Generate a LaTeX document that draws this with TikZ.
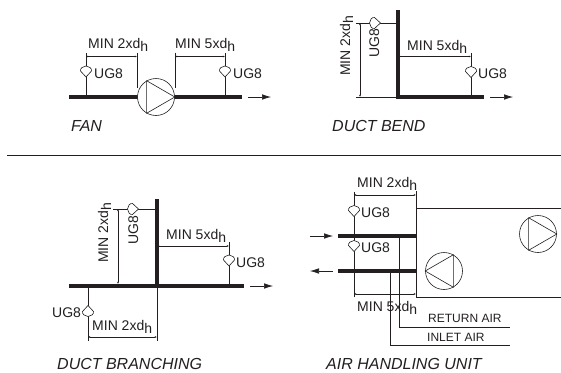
\documentclass[tikz,border=0pt]{standalone}
\usepackage{fontspec}
\setmainfont{Liberation Sans}
\usetikzlibrary{arrows.meta, calc}
\definecolor{my-ink}{HTML}{231F20}
\newcommand{\mindim}[1]{MIN #1xd\raisebox{-3pt}{h}}
\tikzset{
    my-wire/.style={
        draw=my-ink, line width=.6pt
    },
    my-duct/.style={
        draw=my-ink, line width=3.6pt
    },
    my-dim/.style={
        my-wire, {Latex[length=2.2pt,width=2pt]}-{Latex[length=2.2pt,width=2pt]}
    },
    my-flow/.style={
        my-wire, -{Latex[length=9pt,width=5.5pt]}
    },
    my-fan/.style={
        my-wire, shape=circle, minimum size=37pt, inner sep=0pt, fill=white
    },
    my-text/.style={
        anchor=base west, inner sep=0pt, text=my-ink, font=\fontsize{14}{14}\selectfont
    },
    my-vtext/.style={
        anchor=base west, inner sep=0pt, text=my-ink, rotate=90, font=\fontsize{14}{14}\selectfont
    },
    my-small/.style={
        my-text, font=\fontsize{12}{12}\selectfont
    },
    my-title/.style={
        anchor=base west, inner sep=0pt, text=my-ink, font=\fontsize{16}{16}\selectfont\itshape
    },
    my-sensor/.pic={
        \draw[my-wire, fill=white] (0,5.5) -- (-5.5,-.5) .. controls (-6,-3) and (-3,-5.5) .. (0,-5.5)
            .. controls (3,-5.5) and (6,-3) .. (5.5,-.5) -- cycle;
    },
}

\begin{document}
\begin{tikzpicture}[x=1pt, y=-1pt]

        \useasboundingbox (0,0) rectangle (561,372);

        % FAN, DUCT AND SENSORS
        \coordinate (FDUCTL) at (69,97);
        \coordinate (FDUCTR) at (242,97);
        \coordinate (FSENS1) at (86,97);
        \coordinate (FSENS2) at (225,97);
        \coordinate (FDIM1)  at (86,56.5);
        \coordinate (FDIM2)  at (137,56.5);
        \coordinate (FDIM3)  at (175,56.5);
        \coordinate (FDIM4)  at (225,56.5);
        \coordinate (FTICK2) at (137,88);
        \coordinate (FTICK3) at (175,88);
        \coordinate (FARR1)  at (248,97);
        \coordinate (FARR2)  at (271,97);
        \draw[my-duct] (FDUCTL) -- (FDUCTR);
        \node[my-fan, draw] (FAN) at (156,97) {};
        \draw[my-wire] (FAN.120) -- (FAN.0) -- (FAN.240) -- cycle;
        \draw[my-wire] (FSENS1) -- ($(FDIM1) + (0,-4)$);
        \draw[my-wire] (FSENS2) -- ($(FDIM4) + (0,-4)$);
        \draw[my-wire] ($(FDIM2) + (0,-4)$) -- (FTICK2);
        \draw[my-wire] ($(FDIM3) + (0,-4)$) -- (FTICK3);
        \draw[my-dim] (FDIM1) -- (FDIM2);
        \draw[my-dim] (FDIM3) -- (FDIM4);
        \draw[my-flow] (FARR1) -- (FARR2);
        \pic at (86,71.5) {my-sensor};
        \pic at (225,71.5) {my-sensor};
        \node[my-text] (FMIN2) at (88,48)  {\mindim{2}};
        \node[my-text] (FMIN5) at (175,48) {\mindim{5}};
        \node[my-text] (FUG1)  at (94,78)  {UG8};
        \node[my-text] (FUG2)  at (233,78) {UG8};
        \node[my-title] (FTITLE) at (71,131) {FAN};

        % DUCT BEND
        \coordinate (BTOP)    at (398,10);
        \coordinate (BCORNER) at (398,97);
        \coordinate (BEND)    at (484,97);
        \coordinate (BSENS1)  at (398,23);
        \coordinate (BLEFT1)  at (356,23);
        \coordinate (BLEFT2)  at (356,97);
        \coordinate (BDIM1)   at (360,23);
        \coordinate (BDIM2)   at (360,97);
        \coordinate (BDIM3)   at (398,56.5);
        \coordinate (BDIM4)   at (471,56.5);
        \coordinate (BSENS2)  at (471,97);
        \coordinate (BARR1)   at (490,97);
        \coordinate (BARR2)   at (513,97);
        \draw[my-duct] (BTOP) -- (BCORNER) -- (BEND);
        \draw[my-wire] (BLEFT1) -- (BSENS1);
        \draw[my-wire] (BLEFT2) -- (BCORNER);
        \draw[my-dim] (BDIM1) -- (BDIM2);
        \draw[my-dim] (BDIM3) -- (BDIM4);
        \draw[my-wire] (BSENS2) -- ($(BDIM4) + (0,-4)$);
        \draw[my-flow] (BARR1) -- (BARR2);
        \pic[rotate=90] at (375,23) {my-sensor};
        \pic at (471,72) {my-sensor};
        \node[my-vtext] (BMIN2) at (350,76) {\mindim{2}};
        \node[my-vtext] (BUG1)  at (379,58) {UG8};
        \node[my-text]  (BMIN5) at (407,50) {\mindim{5}};
        \node[my-text]  (BUG2)  at (478,78) {UG8};
        \node[my-title] (BTITLE) at (332,131) {DUCT BEND};

        % SEPARATOR
        \coordinate (SEPL) at (7,155);
        \coordinate (SEPR) at (561,155);
        \draw[my-wire, line width=1pt] (SEPL) -- (SEPR);

        % DUCT BRANCHING
        \coordinate (DLEFT)   at (69,286);
        \coordinate (DRIGHT)  at (244,286);
        \coordinate (DTOP)    at (157,199);
        \coordinate (DJOIN)   at (157,286);
        \coordinate (DSENS1)  at (157,209);
        \coordinate (DLEFT1)  at (113,209);
        \coordinate (DDIM1)   at (118,209);
        \coordinate (DDIM2)   at (118,284);
        \coordinate (DDIM3)   at (157,246);
        \coordinate (DDIM4)   at (229,246);
        \coordinate (DSENS2)  at (229,286);
        \coordinate (DSENS3)  at (88,286);
        \coordinate (DDIM5)   at (88,337);
        \coordinate (DDIM6)   at (157,337);
        \coordinate (DARR1)   at (250,286);
        \coordinate (DARR2)   at (273,286);
        \draw[my-duct] (DLEFT) -- (DRIGHT);
        \draw[my-duct] (DTOP) -- (DJOIN);
        \draw[my-wire] (DLEFT1) -- (DSENS1);
        \draw[my-dim] (DDIM1) -- (DDIM2);
        \draw[my-dim] (DDIM3) -- (DDIM4);
        \draw[my-dim] (DDIM5) -- (DDIM6);
        \draw[my-wire] (DSENS2) -- ($(DDIM4) + (0,-4)$);
        \draw[my-wire] (DSENS3) -- ($(DDIM5) + (0,4)$);
        \draw[my-wire] (DJOIN) -- ($(DDIM6) + (0,4)$);
        \draw[my-flow] (DARR1) -- (DARR2);
        \pic[rotate=90] at (133,209) {my-sensor};
        \pic at (229,260.5) {my-sensor};
        \pic[rotate=180] at (88,311) {my-sensor};
        \node[my-vtext] (DMIN2) at (108,263) {\mindim{2}};
        \node[my-vtext] (DUG1)  at (138,245) {UG8};
        \node[my-text]  (DMIN5) at (166,239) {\mindim{5}};
        \node[my-text]  (DUG2)  at (236,267) {UG8};
        \node[my-text]  (DUG3)  at (52,317)  {UG8};
        \node[my-text]  (DMINB) at (92,330)  {\mindim{2}};
        \node[my-title] (DTITLE) at (57,369) {DUCT BRANCHING};

        % AIR HANDLING UNIT
        \coordinate (ABOXTL)  at (561,208);
        \coordinate (ACORN1)  at (416,208);
        \coordinate (ACORN2)  at (416,297);
        \coordinate (ABOXBL)  at (561,297);
        \coordinate (ATICK)   at (416,191);
        \coordinate (AUP1)    at (338,236);
        \coordinate (AUP2)    at (416,236);
        \coordinate (ALO1)    at (338,271);
        \coordinate (ALO2)    at (416,271);
        \coordinate (ASENS)   at (354,195);
        \coordinate (ASENSB)  at (354,297);
        \coordinate (ADIM1)   at (354,195);
        \coordinate (ADIM2)   at (416,195);
        \coordinate (ADIM3)   at (354,294);
        \coordinate (ADIM4)   at (416,294);
        \coordinate (ARET1)   at (399,236);
        \coordinate (ARET2)   at (399,327);
        \coordinate (ARET3)   at (510,327);
        \coordinate (AINL1)   at (390,271);
        \coordinate (AINL2)   at (390,345);
        \coordinate (AINL3)   at (510,345);
        \coordinate (AARR1)   at (310,236);
        \coordinate (AARR2)   at (333,236);
        \coordinate (AARR3)   at (333,271);
        \coordinate (AARR4)   at (310,271);
        \draw[my-wire] (ABOXTL) -- (ACORN1) -- (ACORN2) -- (ABOXBL);
        \draw[my-wire] (ATICK) -- (ACORN1);
        \draw[my-wire] ($(ASENS) + (0,-3)$) -- (ASENSB);
        \draw[my-wire] (ARET1) -- (ARET2) -- (ARET3);
        \draw[my-wire] (AINL1) -- (AINL2) -- (AINL3);
        \draw[my-duct] (AUP1) -- (AUP2);
        \draw[my-duct] (ALO1) -- (ALO2);
        \draw[my-dim] (ADIM1) -- (ADIM2);
        \draw[my-dim] (ADIM3) -- (ADIM4);
        \draw[my-flow] (AARR1) -- (AARR2);
        \draw[my-flow] (AARR3) -- (AARR4);
        \pic at (354,211) {my-sensor};
        \pic at (354,246) {my-sensor};
        \node[my-fan, draw] (AFAN1) at (538,234) {};
        \draw[my-wire] (AFAN1.120) -- (AFAN1.0) -- (AFAN1.240) -- cycle;
        \node[my-fan, draw] (AFAN2) at (444,271) {};
        \draw[my-wire] (AFAN2.60) -- (AFAN2.180) -- (AFAN2.300) -- cycle;
        \node[my-text]  (AMIN2) at (357,187) {\mindim{2}};
        \node[my-text]  (AUG1)  at (361,217) {UG8};
        \node[my-text]  (AUG2)  at (361,252) {UG8};
        \node[my-text]  (AMIN5) at (357,311) {\mindim{5}};
        \node[my-small] (ARETT) at (428,322) {RETURN AIR};
        \node[my-small] (AINLT) at (427,341) {INLET AIR};
        \node[my-title] (ATITLE) at (326,369) {AIR HANDLING UNIT};

\end{tikzpicture}
\end{document}
